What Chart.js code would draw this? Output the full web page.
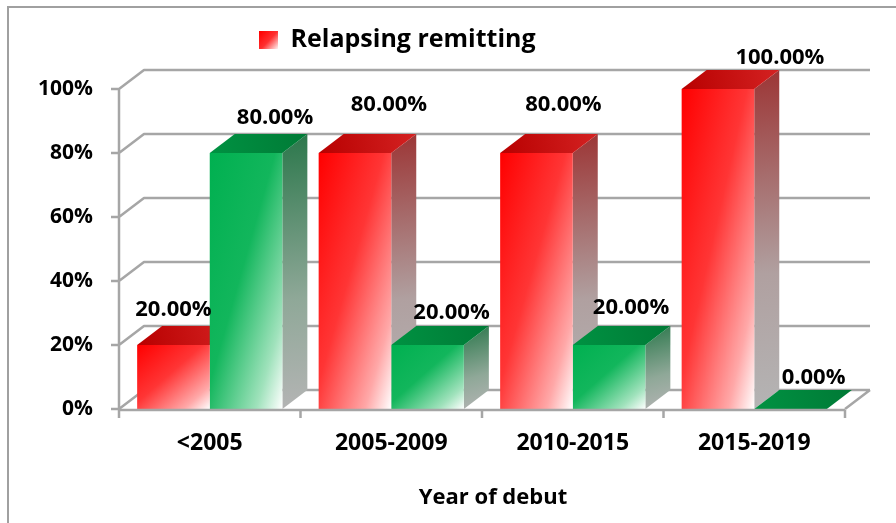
<!DOCTYPE html>
<html><head><meta charset="utf-8">
<script src="https://cdn.jsdelivr.net/npm/chart.js@4.4.0/dist/chart.umd.min.js"></script>
<style>html,body{margin:0;padding:0;background:#fff;overflow:hidden}</style>
</head><body>
<canvas id="c" width="896" height="523"></canvas>
<script>
const categories = ['<2005', '2005-2009', '2010-2015', '2015-2019'];
const relapsingRemitting = [20, 80, 80, 100];
const otherCourse = [80, 20, 20, 0];
const seriesNames = ['Relapsing remitting', 'Other'];
const yTickStep = 20;
const xTitle = 'Year of debut';

const FONT = '"Open Sans"';
const DX = 25, DY = -19;
const GRID = '#a6a6a6';
const LEGEND_SIZE = 25;

const palette = [
  { front: ['#ff0000', '#ff3535', '#ffa8a8', '#ffffff'], side: ['#9c3535', '#b0a0a0', '#b4b4b4'], top: ['#b80000', '#d42222'] },
  { front: ['#00b050', '#12b65c', '#a0e2bc', '#ffffff'], side: ['#2b774b', '#8fa898', '#b4b4b4'], top: ['#009242', '#007a36'] }
];

// label offsets relative to the front-top centre of each bar (style only)
const labelOffsets = [
  [[0, -35], [34, -48], [27, -48], [62, -31]],
  [[29, -35], [24, -32], [22, -37], [23, -31]]
];

function frontGradient(ctx, l, t, r, b, stops) {
  const w = Math.max(r - l, 1), h = Math.max(b - t, 1);
  const k = 2 * w * h / (w * w + h * h);
  const g = ctx.createLinearGradient(l, t, l + h * k, t + w * k);
  g.addColorStop(0, stops[0]);
  g.addColorStop(0.45, stops[1]);
  g.addColorStop(0.82, stops[2]);
  g.addColorStop(1, stops[3]);
  return g;
}

const threeD = {
  id: 'threeD',
  afterLayout(chart) {
    const lg = chart.legend;
    if (lg && lg.lineWidths) {
      const pad = 10;
      const startX = (lg.left + pad + lg.right - lg.lineWidths[0]) / 2;
      const sx = 259 - startX;
      lg.left += sx; lg.right += sx;
      const centre = lg.top + pad + LEGEND_SIZE / 2;
      const sy = 40 - centre;
      lg.top += sy; lg.bottom += sy;
    }
    // nudge the axis title box so the title sits where it does in the source
    const xs = chart.scales.x;
    if (xs) { xs.left += 11; xs.right += 11; }
  },
  beforeDraw(chart) {
    const ctx = chart.ctx;
    ctx.save();
    ctx.fillStyle = '#fff';
    ctx.fillRect(0, 0, chart.width, chart.height);
    ctx.strokeStyle = '#a0a0a0';
    ctx.lineWidth = 2;
    ctx.beginPath();
    ctx.moveTo(8, chart.height);
    ctx.lineTo(8, 7);
    ctx.lineTo(chart.width, 7);
    ctx.stroke();
    ctx.restore();
  },
  beforeDatasetsDraw(chart) {
    const { ctx, chartArea: a, scales: { y } } = chart;
    ctx.save();
    ctx.strokeStyle = GRID;
    ctx.lineWidth = 2.5;
    ctx.lineJoin = 'round';
    ctx.beginPath();
    y.ticks.forEach(t => {
      const py = y.getPixelForValue(t.value);
      ctx.moveTo(a.left - 8, py);
      ctx.lineTo(a.left, py);
      ctx.lineTo(a.left + DX, py + DY);
      ctx.lineTo(a.right + DX, py + DY);
    });
    ctx.moveTo(a.left, a.top);
    ctx.lineTo(a.left, a.bottom);
    ctx.moveTo(a.right, a.bottom);
    ctx.lineTo(a.right + DX, a.bottom + DY);
    ctx.stroke();

    const n = chart.data.labels.length;
    for (let i = 0; i < n; i++) {
      chart.data.datasets.forEach((ds, d) => {
        const el = chart.getDatasetMeta(d).data[i];
        if (!el) return;
        const p = palette[d];
        const l = el.x - el.width / 2, r = el.x + el.width / 2;
        const top = Math.min(el.y, el.base), base = Math.max(el.y, el.base);
        if (base - top > 0.5) {
          const sg = ctx.createLinearGradient(r, top + DY, r + DX, base);
          sg.addColorStop(0, p.side[0]);
          sg.addColorStop(0.6, p.side[1]);
          sg.addColorStop(1, p.side[2]);
          ctx.fillStyle = sg;
          ctx.beginPath();
          ctx.moveTo(r, top);
          ctx.lineTo(r + DX, top + DY);
          ctx.lineTo(r + DX, base + DY);
          ctx.lineTo(r, base);
          ctx.closePath();
          ctx.fill();
        }
        const tg = ctx.createLinearGradient(l, top, r + DX, top + DY);
        tg.addColorStop(0, p.top[0]);
        tg.addColorStop(1, p.top[1]);
        ctx.fillStyle = tg;
        ctx.beginPath();
        ctx.moveTo(l, top);
        ctx.lineTo(l + DX, top + DY);
        ctx.lineTo(r + DX, top + DY);
        ctx.lineTo(r, top);
        ctx.closePath();
        ctx.fill();
        if (el.options) el.options.backgroundColor = frontGradient(ctx, l, top, r, base, p.front);
      });
    }
    ctx.restore();
  },
  afterDatasetsDraw(chart) {
    const { ctx, chartArea: a } = chart;
    ctx.save();
    ctx.strokeStyle = GRID;
    ctx.lineWidth = 2.5;
    ctx.beginPath();
    ctx.moveTo(a.left, a.bottom + 1);
    ctx.lineTo(a.right, a.bottom + 1);
    const n = chart.data.labels.length;
    const cw = (a.right - a.left) / n;
    for (let i = 0; i <= n; i++) {
      const px = a.left + i * cw;
      ctx.moveTo(px, a.bottom + 1);
      ctx.lineTo(px, a.bottom + 9);
    }
    ctx.stroke();
    ctx.fillStyle = '#000';
    ctx.font = 'bold 22px ' + FONT;
    ctx.textAlign = 'center';
    ctx.textBaseline = 'middle';
    chart.data.datasets.forEach((ds, d) => {
      chart.getDatasetMeta(d).data.forEach((el, i) => {
        const off = labelOffsets[d][i];
        ctx.fillText(ds.data[i].toFixed(2) + '%', el.x + off[0], el.y + off[1]);
      });
    });
    ctx.restore();
  }
};

const boldFont = (size) => ({ family: FONT, weight: 'bold', size });

new Chart(document.getElementById('c'), {
  type: 'bar',
  data: {
    labels: categories,
    datasets: [
      { label: seriesNames[0], data: relapsingRemitting, backgroundColor: () => '#ff0000', borderWidth: 0 },
      { label: seriesNames[1], data: otherCourse, backgroundColor: () => '#00b050', borderWidth: 0 }
    ]
  },
  options: {
    responsive: false,
    animation: false,
    devicePixelRatio: 1,
    categoryPercentage: 0.8,
    barPercentage: 1.0,
    layout: { padding: { top: 44, right: 51, left: 0, bottom: 0 } },
    plugins: {
      tooltip: { enabled: false },
      legend: {
        position: 'top',
        labels: {
          font: boldFont(LEGEND_SIZE),
          color: '#000',
          boxWidth: 19,
          boxHeight: 18,
          padding: 10,
          generateLabels(chart) {
            const g = chart.ctx.createLinearGradient(259, 32, 278, 50);
            g.addColorStop(0, '#ff0000');
            g.addColorStop(0.5, '#ff3030');
            g.addColorStop(1, '#ffffff');
            return [{ text: chart.data.datasets[0].label, fillStyle: g, strokeStyle: 'rgba(0,0,0,0)', lineWidth: 0, hidden: false, datasetIndex: 0, fontColor: '#000' }];
          }
        }
      }
    },
    scales: {
      x: {
        grid: { display: false, drawTicks: false },
        border: { display: false },
        ticks: { font: boldFont(23), color: '#000', padding: 21 },
        title: { display: true, text: xTitle, font: boldFont(22), color: '#000', padding: { top: 0, bottom: 12 } },
        afterFit(s) { s.height = 114; }
      },
      y: {
        min: 0, max: 100,
        grid: { display: false, drawTicks: false },
        border: { display: false },
        ticks: { stepSize: yTickStep, callback: v => v + '%', font: boldFont(21), color: '#000', padding: 26 },
        afterFit(s) { s.width = 119; }
      }
    }
  },
  plugins: [threeD]
});
</script>
</body></html>
